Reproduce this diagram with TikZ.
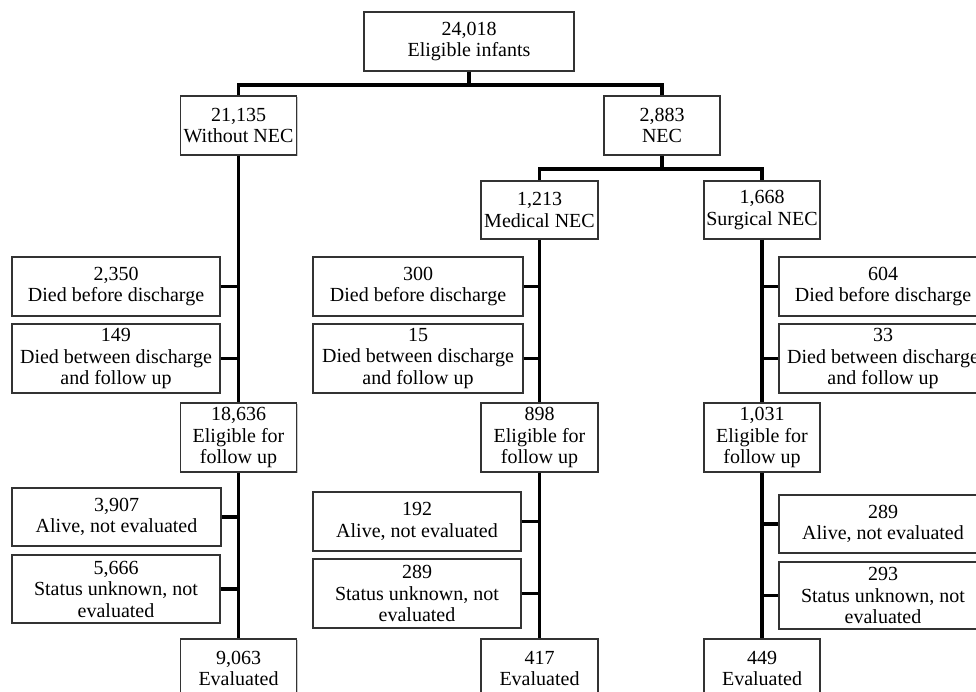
\documentclass[tikz,border=0pt]{standalone}
\usepackage{fontspec}
\setmainfont{Liberation Serif}
\usetikzlibrary{shadows}
\begin{document}
\begin{tikzpicture}[x=1pt,y=-1pt,
  bx/.style={draw=black!80, line width=1.4pt, fill=white, align=center, inner sep=0pt,
     font=\fontsize{20}{21.5}\selectfont,
     drop shadow={shadow xshift=1.2pt, shadow yshift=-1.2pt, fill=black!35, opacity=0.6}},
  ln/.style={line width=3.5pt, black}]
\useasboundingbox (0,0) rectangle (976,691);
\fill[white] (0,0) rectangle (976,691);
\clip (0,0) rectangle (976,691);
% top levels
\node[bx, minimum width=210pt, minimum height=59pt] (top) at (469,41.5) {24,018\\Eligible infants};
\node[bx, minimum width=116pt, minimum height=59pt] (wo) at (238.5,125.5) {21,135\\Without NEC};
\node[bx, minimum width=116pt, minimum height=59pt] (nec) at (662,125.5) {2,883\\NEC};
\node[bx, minimum width=117pt, minimum height=58pt] (med) at (539.5,210) {1,213\\Medical NEC};
\node[bx, minimum width=116pt, minimum height=58pt] (sur) at (762,210) {1,668\\Surgical NEC};
% left column
\node[bx, minimum width=208pt, minimum height=59pt] (L1) at (116,286.5) {2,350\\Died before discharge};
\node[bx, minimum width=208pt, minimum height=69pt] (L2) at (116,358.5) {149\\Died between discharge\\and follow up};
\node[bx, minimum width=116pt, minimum height=69pt] (E1) at (238.5,437.5) {18,636\\Eligible for\\follow up};
\node[bx, minimum width=209pt, minimum height=58pt] (L3) at (116.5,517) {3,907\\Alive, not evaluated};
\node[bx, minimum width=208pt, minimum height=68pt] (L4) at (116,589) {5,666\\Status unknown, not\\evaluated};
\node[bx, minimum width=116pt, minimum height=59pt] (V1) at (238.5,668.5) {9,063\\Evaluated};
% middle column
\node[bx, minimum width=210pt, minimum height=59pt] (M1) at (418,286.5) {300\\Died before discharge};
\node[bx, minimum width=210pt, minimum height=69pt] (M2) at (418,358.5) {15\\Died between discharge\\and follow up};
\node[bx, minimum width=117pt, minimum height=69pt] (E2) at (539.5,437.5) {898\\Eligible for\\follow up};
\node[bx, minimum width=208pt, minimum height=59pt] (M3) at (417,521.5) {192\\Alive, not evaluated};
\node[bx, minimum width=208pt, minimum height=69pt] (M4) at (417,593.5) {289\\Status unknown, not\\evaluated};
\node[bx, minimum width=117pt, minimum height=59pt] (V2) at (539.5,668.5) {417\\Evaluated};
% right column
\node[bx, minimum width=208pt, minimum height=59pt] (R1) at (883,286.5) {604\\Died before discharge};
\node[bx, minimum width=208pt, minimum height=69pt] (R2) at (883,358.5) {33\\Died between discharge\\and follow up};
\node[bx, minimum width=116pt, minimum height=69pt] (E3) at (762,437.5) {1,031\\Eligible for\\follow up};
\node[bx, minimum width=208pt, minimum height=58pt] (R3) at (883,524) {289\\Alive, not evaluated};
\node[bx, minimum width=208pt, minimum height=67pt] (R4) at (883,595.5) {293\\Status unknown, not\\evaluated};
\node[bx, minimum width=116pt, minimum height=59pt] (V3) at (762,668.5) {449\\Evaluated};
% connectors
\coordinate (j1) at (469,85);
\coordinate (j2) at (662,169);
\draw[ln] (top.south) -- (j1);
\draw[ln] (wo.north) |- (j1) -| (nec.north);
\draw[ln] (nec.south) -- (j2);
\draw[ln] (med.north) |- (j2) -| (sur.north);
\draw[ln] (wo.south) -- (E1.north);
\draw[ln] (E1.south) -- (V1.north);
\draw[ln] (med.south) -- (E2.north);
\draw[ln] (E2.south) -- (V2.north);
\draw[ln] (sur.south) -- (E3.north);
\draw[ln] (E3.south) -- (V3.north);
\draw[ln] (L1.east) -- (L1.east -| wo.south);
\draw[ln] (L2.east) -- (L2.east -| wo.south);
\draw[ln] (L3.east) -- (L3.east -| E1.south);
\draw[ln] (L4.east) -- (L4.east -| E1.south);
\draw[ln] (M1.east) -- (M1.east -| med.south);
\draw[ln] (M2.east) -- (M2.east -| med.south);
\draw[ln] (M3.east) -- (M3.east -| E2.south);
\draw[ln] (M4.east) -- (M4.east -| E2.south);
\draw[ln] (R1.west) -- (R1.west -| sur.south);
\draw[ln] (R2.west) -- (R2.west -| sur.south);
\draw[ln] (R3.west) -- (R3.west -| E3.south);
\draw[ln] (R4.west) -- (R4.west -| E3.south);
\end{tikzpicture}
\end{document}
